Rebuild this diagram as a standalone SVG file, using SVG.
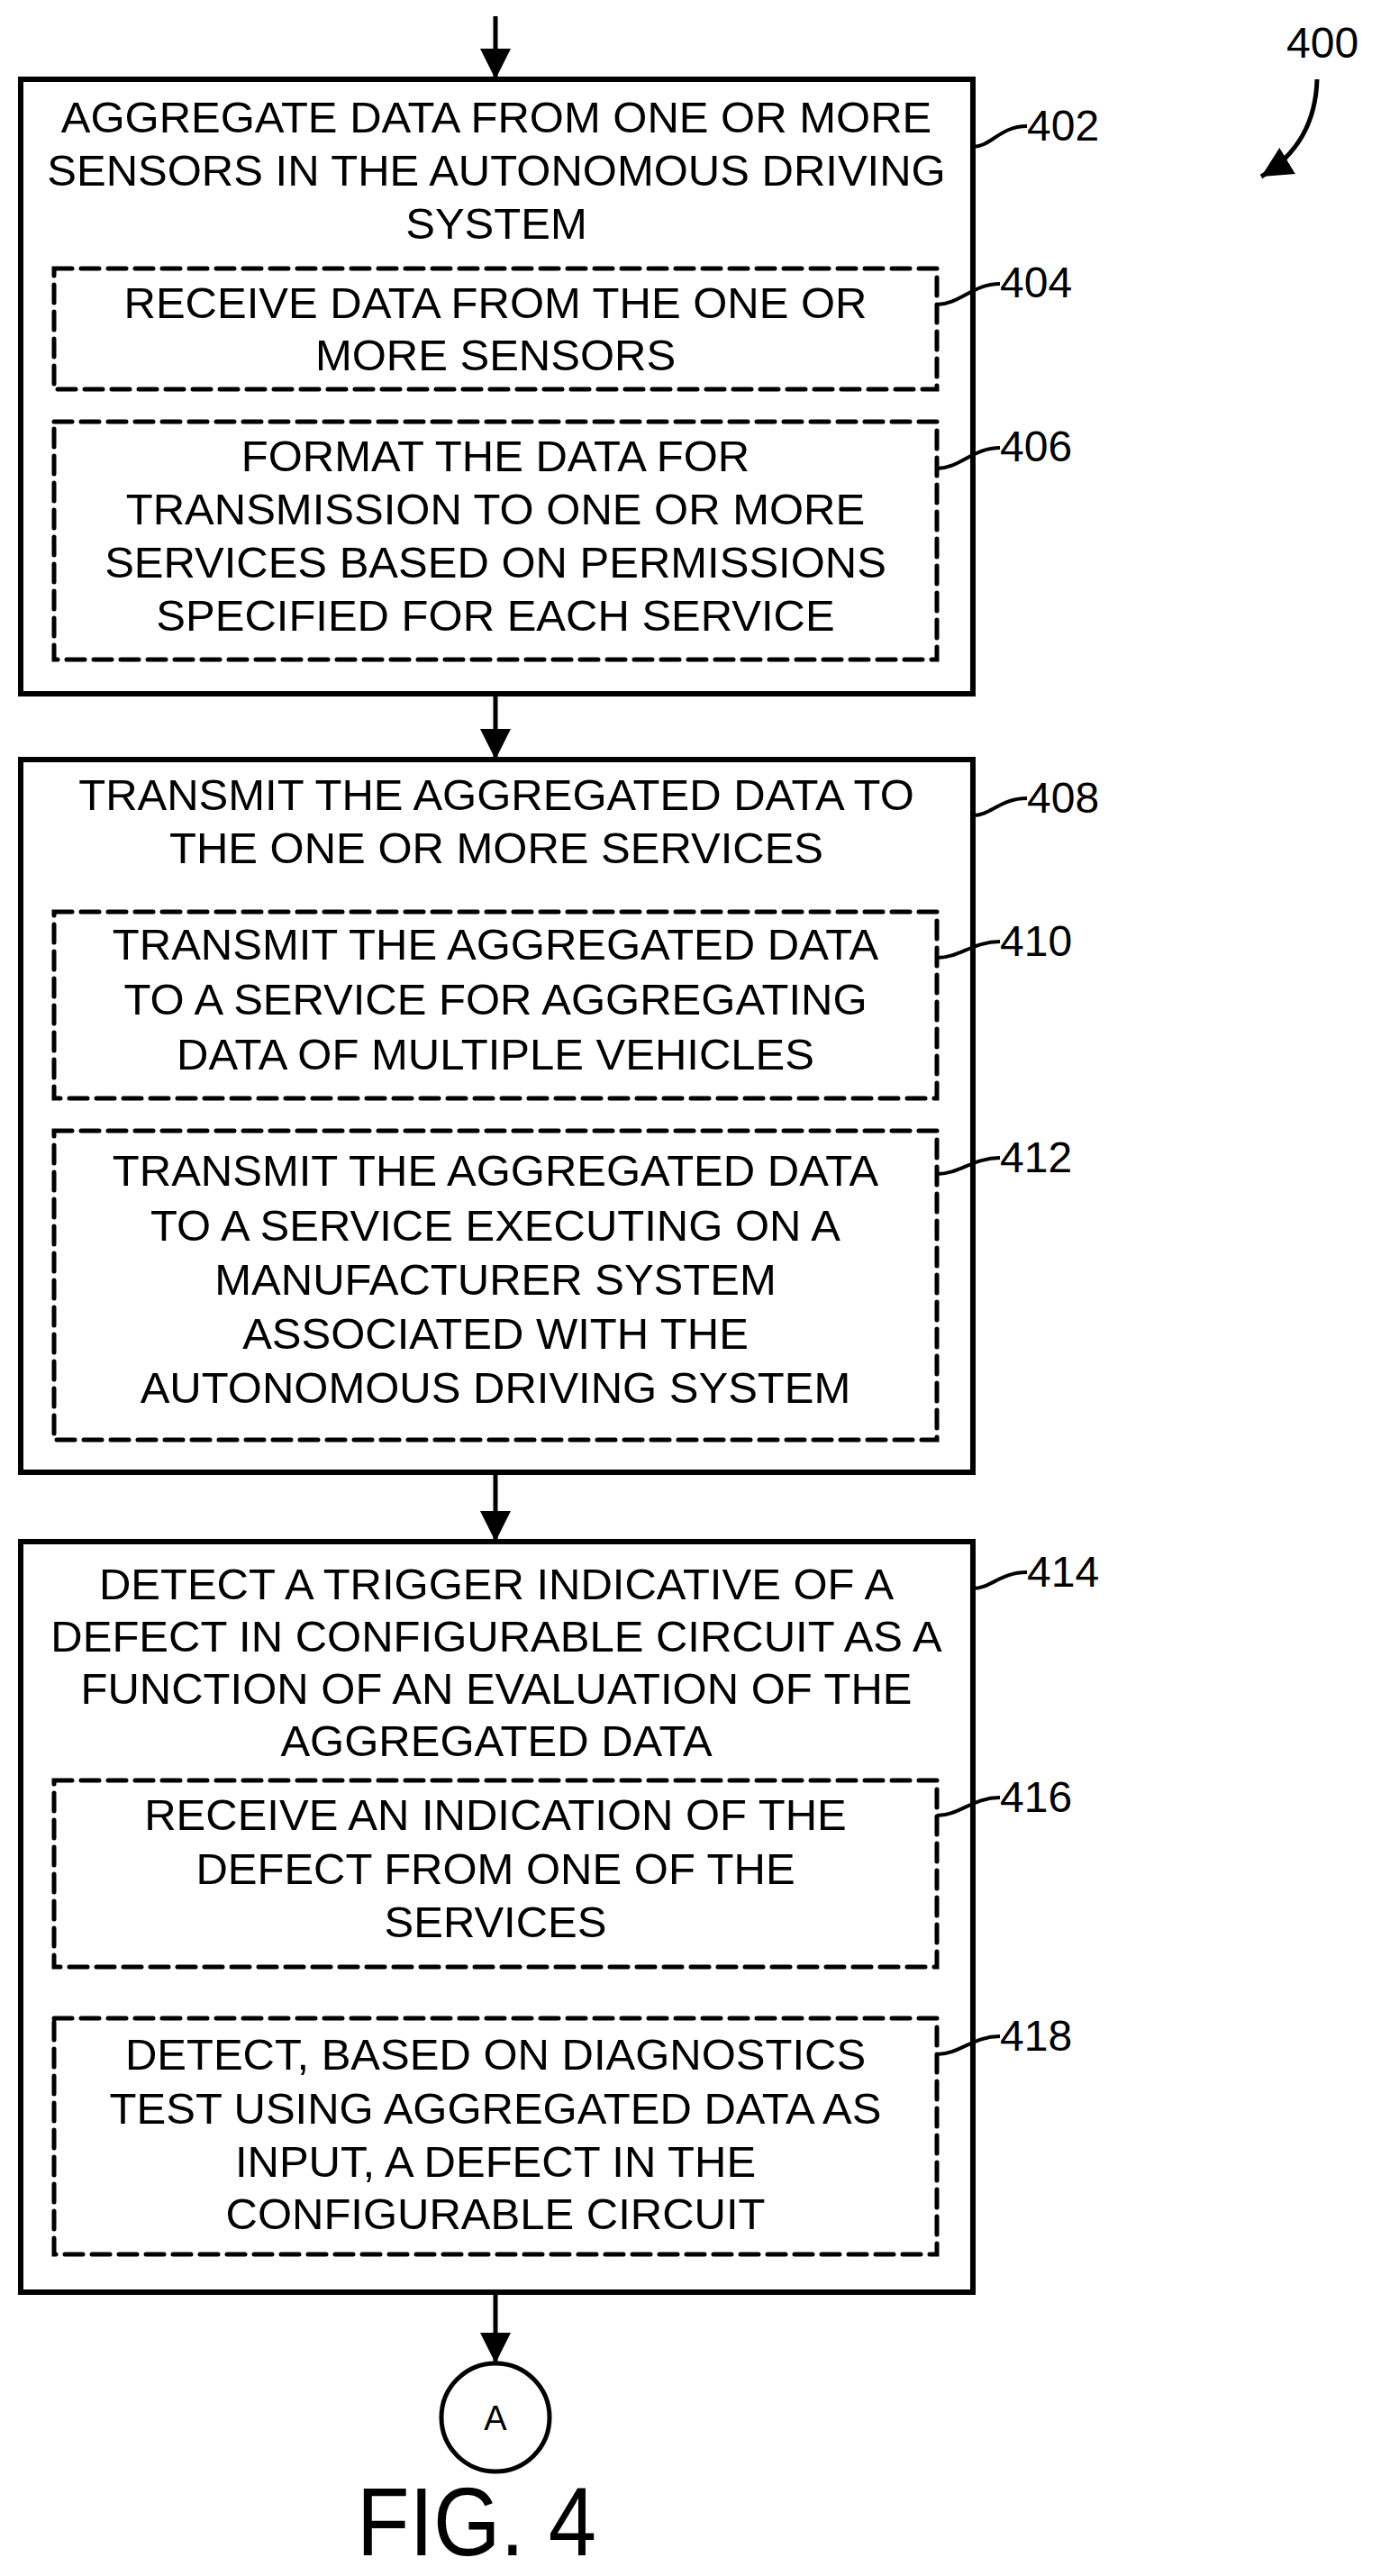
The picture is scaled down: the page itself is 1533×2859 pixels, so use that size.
<svg xmlns="http://www.w3.org/2000/svg" width="1533" height="2859" viewBox="0 0 1533 2859">
<style>
text{font-family:"Liberation Sans",Arial,sans-serif;fill:#000}
.t{font-size:49px;text-anchor:middle}
.n{font-size:48px}
.box{fill:none;stroke:#000;stroke-width:6}
.dash{fill:none;stroke:#000;stroke-width:5;stroke-dasharray:20 10;stroke-linecap:round}
.ln{fill:none;stroke:#000;stroke-width:5}
.sq{fill:none;stroke:#000;stroke-width:4}
</style>
<defs>
<marker id="ah" markerUnits="userSpaceOnUse" markerWidth="36" markerHeight="34" refX="34" refY="17" orient="auto">
<path d="M0,0 L34,17 L0,34 Z" fill="#000"/>
</marker>
</defs>
<g id="connectors">
<line class="ln" x1="550" y1="18" x2="550" y2="88" marker-end="url(#ah)"/>
<line class="ln" x1="550" y1="770" x2="550" y2="843" marker-end="url(#ah)"/>
<line class="ln" x1="550" y1="1634" x2="550" y2="1711" marker-end="url(#ah)"/>
<line class="ln" x1="550" y1="2544" x2="550" y2="2623" marker-end="url(#ah)"/>
</g>
<g id="label400">
<text class="n" x="1428" y="64">400</text>
<path class="ln" d="M1462,88 Q1460,160 1400,196" marker-end="url(#ah)"/>
</g>
<g id="n402">
<rect class="box" x="23" y="88" width="1057" height="682"/>
<text class="t" x="551" y="147">AGGREGATE DATA FROM ONE OR MORE</text>
<text class="t" x="551" y="206">SENSORS IN THE AUTONOMOUS DRIVING</text>
<text class="t" x="551" y="265">SYSTEM</text>
<path class="sq" d="M1080,163 C1100,163 1110,140 1140,140"/>
<text class="n" x="1140" y="156">402</text>
</g>
<g id="n404">
<rect class="dash" x="60" y="298" width="980" height="134"/>
<text class="t" x="550" y="353">RECEIVE DATA FROM THE ONE OR</text>
<text class="t" x="550" y="411">MORE SENSORS</text>
<path class="sq" d="M1040,338 C1065,338 1080,315 1110,315"/>
<text class="n" x="1110" y="330">404</text>
</g>
<g id="n406">
<rect class="dash" x="60" y="468" width="980" height="264"/>
<text class="t" x="550" y="523">FORMAT THE DATA FOR</text>
<text class="t" x="550" y="582">TRANSMISSION TO ONE OR MORE</text>
<text class="t" x="550" y="641">SERVICES BASED ON PERMISSIONS</text>
<text class="t" x="550" y="700">SPECIFIED FOR EACH SERVICE</text>
<path class="sq" d="M1040,520 C1065,520 1080,497 1110,497"/>
<text class="n" x="1110" y="512">406</text>
</g>
<g id="n408">
<rect class="box" x="23" y="843" width="1057" height="791"/>
<text class="t" x="551" y="899">TRANSMIT THE AGGREGATED DATA TO</text>
<text class="t" x="551" y="958">THE ONE OR MORE SERVICES</text>
<path class="sq" d="M1080,905 C1100,905 1110,886 1140,886"/>
<text class="n" x="1140" y="902">408</text>
</g>
<g id="n410">
<rect class="dash" x="60" y="1012" width="980" height="207"/>
<text class="t" x="550" y="1065">TRANSMIT THE AGGREGATED DATA</text>
<text class="t" x="550" y="1126">TO A SERVICE FOR AGGREGATING</text>
<text class="t" x="550" y="1187">DATA OF MULTIPLE VEHICLES</text>
<path class="sq" d="M1040,1063 C1065,1063 1080,1045 1110,1045"/>
<text class="n" x="1110" y="1061">410</text>
</g>
<g id="n412">
<rect class="dash" x="60" y="1255" width="980" height="343"/>
<text class="t" x="550" y="1316">TRANSMIT THE AGGREGATED DATA</text>
<text class="t" x="550" y="1377">TO A SERVICE EXECUTING ON A</text>
<text class="t" x="550" y="1437">MANUFACTURER SYSTEM</text>
<text class="t" x="550" y="1497">ASSOCIATED WITH THE</text>
<text class="t" x="550" y="1557">AUTONOMOUS DRIVING SYSTEM</text>
<path class="sq" d="M1040,1303 C1065,1303 1080,1285 1110,1285"/>
<text class="n" x="1110" y="1301">412</text>
</g>
<g id="n414">
<rect class="box" x="23" y="1711" width="1057" height="833"/>
<text class="t" x="551" y="1775">DETECT A TRIGGER INDICATIVE OF A</text>
<text class="t" x="551" y="1833">DEFECT IN CONFIGURABLE CIRCUIT AS A</text>
<text class="t" x="551" y="1891">FUNCTION OF AN EVALUATION OF THE</text>
<text class="t" x="551" y="1949">AGGREGATED DATA</text>
<path class="sq" d="M1080,1763 C1100,1763 1110,1745 1140,1745"/>
<text class="n" x="1140" y="1761">414</text>
</g>
<g id="n416">
<rect class="dash" x="60" y="1976" width="980" height="207"/>
<text class="t" x="550" y="2031">RECEIVE AN INDICATION OF THE</text>
<text class="t" x="550" y="2091">DEFECT FROM ONE OF THE</text>
<text class="t" x="550" y="2150">SERVICES</text>
<path class="sq" d="M1040,2015 C1065,2015 1080,1995 1110,1995"/>
<text class="n" x="1110" y="2011">416</text>
</g>
<g id="n418">
<rect class="dash" x="60" y="2240" width="980" height="262"/>
<text class="t" x="550" y="2297">DETECT, BASED ON DIAGNOSTICS</text>
<text class="t" x="550" y="2357">TEST USING AGGREGATED DATA AS</text>
<text class="t" x="550" y="2416">INPUT, A DEFECT IN THE</text>
<text class="t" x="550" y="2474">CONFIGURABLE CIRCUIT</text>
<path class="sq" d="M1040,2280 C1065,2280 1080,2260 1110,2260"/>
<text class="n" x="1110" y="2276">418</text>
</g>
<g id="nA">
<circle cx="550" cy="2683" r="60" fill="none" stroke="#000" stroke-width="5"/>
<text x="550" y="2697" font-size="38" text-anchor="middle">A</text>
</g>
<text x="529" y="2836" font-size="108" text-anchor="middle" textLength="266" lengthAdjust="spacingAndGlyphs">FIG. 4</text>
</svg>
